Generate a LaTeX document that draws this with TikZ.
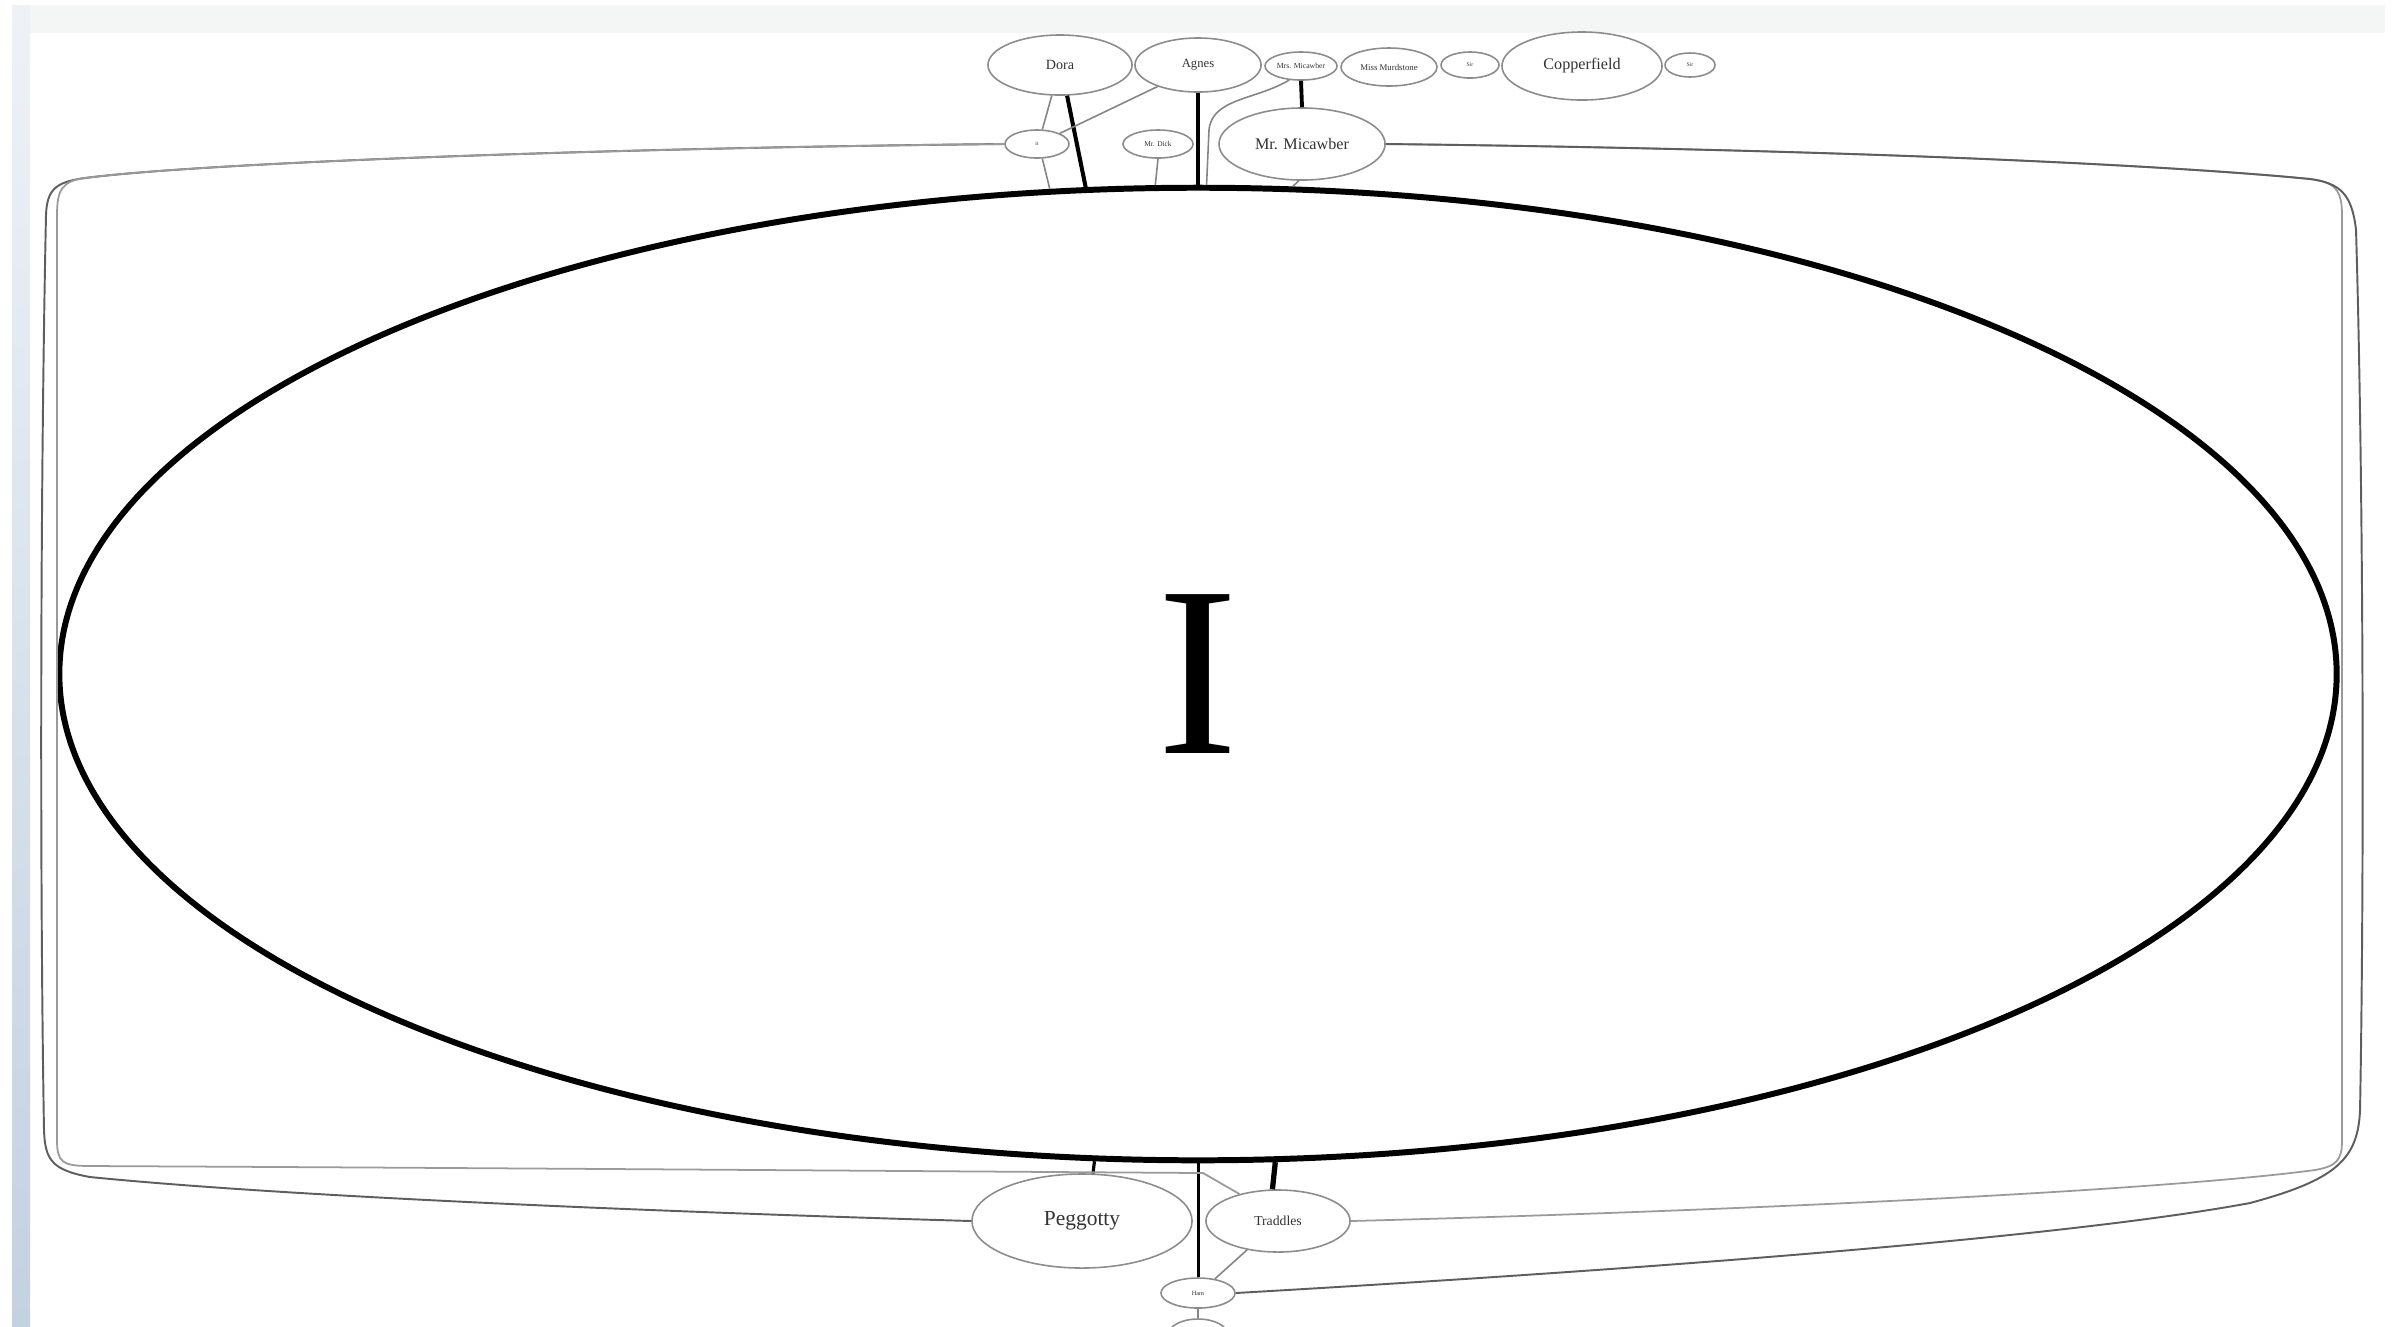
\documentclass[tikz,border=0pt]{standalone}
\usepackage{fontspec}
\setmainfont{Liberation Serif}
\usetikzlibrary{shapes.geometric}
\definecolor{nodegray}{HTML}{8C8C8C}
\definecolor{edgegray}{HTML}{858585}
\definecolor{framedark}{HTML}{5E5E5E}
\definecolor{framelight}{HTML}{9A9A9A}
\definecolor{txtgray}{HTML}{333333}
\definecolor{topstrip}{HTML}{F4F6F6}
\definecolor{bandtop}{HTML}{EEF2F6}
\definecolor{bandbot}{HTML}{C4D1E0}
\newcommand{\fs}[1]{\fontsize{#1}{#1}\selectfont}
\begin{document}
\begin{tikzpicture}[x=0.01cm,y=-0.01cm,
  nd/.style={ellipse,draw=nodegray,line width=0.45pt,inner sep=0pt,text=txtgray,fill=white},
  lite/.style={draw=edgegray,line width=0.45pt},
  heavy/.style={draw=black,line width=#1},
  framed/.style={draw=framedark,line width=0.55pt},
  framel/.style={draw=framelight,line width=0.5pt}]
\useasboundingbox (0,0) rectangle (2400,1326);
% background
\fill[white] (0,0) rectangle (2400,1326);
\fill[topstrip] (12,5) rectangle (2385,33);
\shade[top color=bandtop,bottom color=bandbot] (12,5) rectangle (30,1326);
% main node
\node[ellipse,draw=black,line width=1.7pt,inner sep=0pt,minimum width=22.76cm,minimum height=9.72cm,fill=white] (main) at (1198,674) {\fs{69}I};
% top nodes
\node[nd,minimum width=1.44cm,minimum height=0.60cm] (dora) at (1060,65) {\fs{4}Dora};
\node[nd,minimum width=1.26cm,minimum height=0.54cm] (agnes) at (1198,65) {\fs{3.6}Agnes};
\node[nd,minimum width=0.72cm,minimum height=0.28cm] (mrsmic) at (1301,66) {\fs{2.2}Mrs. Micawber};
\node[nd,minimum width=0.96cm,minimum height=0.38cm] (murd) at (1389,67) {\fs{2.5}Miss Murdstone};
\node[nd,minimum width=0.58cm,minimum height=0.26cm] (sira) at (1470,65) {\fs{1.6}Sir};
\node[nd,minimum width=1.60cm,minimum height=0.68cm] (copp) at (1582,66) {\fs{4.6}Copperfield};
\node[nd,minimum width=0.50cm,minimum height=0.24cm] (sirb) at (1690,65) {\fs{1.6}Sir};
\node[nd,minimum width=0.64cm,minimum height=0.28cm] (q) at (1037,144) {\fs{1.6}it};
\node[nd,minimum width=0.70cm,minimum height=0.28cm] (dick) at (1158,144) {\fs{2.1}Mr. Dick};
\node[nd,minimum width=1.66cm,minimum height=0.72cm] (mic) at (1302,144) {\fs{4.6}Mr. Micawber};
% bottom nodes
\node[nd,minimum width=2.20cm,minimum height=0.94cm] (peg) at (1082,1221) {\fs{6.1}Peggotty};
\node[nd,minimum width=1.44cm,minimum height=0.62cm] (trad) at (1278,1221) {\fs{3.9}Traddles};
\node[nd,minimum width=0.74cm,minimum height=0.30cm] (ham) at (1198,1293) {\fs{1.8}Ham};
\node[nd,minimum width=0.60cm,minimum height=0.32cm] (low) at (1198,1335) {};
% top edges
\draw[lite] (dora.-105) -- (q.70);
\draw[heavy=1.15pt] (dora.-77) -- (main.103.2);
\draw[lite] (agnes.-152) -- (q.25);
\draw[heavy=0.9pt] (agnes.-90) -- (main.north);
\draw[lite] (mrsmic.-130) .. controls (1256,100) and (1212,98) .. (1209,130) -- (main.89.2);
\draw[heavy=1.1pt] (mrsmic.-90) -- (mic.90);
\draw[lite] (q.-70) -- (main.107.4);
\draw[lite] (dick.-90) -- (main.95);
\draw[lite] (mic.-95) -- (main.79.3);
% bottom edges
\draw[heavy=0.9pt] (main.-102.4) -- (peg.77);
\draw[heavy=0.85pt] (main.south) -- (ham.north);
\draw[heavy=1.5pt] (main.-81.8) -- (trad.100);
\draw[lite] (trad.-137) -- (ham.40);
\draw[lite] (ham.-90) -- (low.90);
% frame edges, left
\draw[framed] (q.west) .. controls (600,148) and (200,163) .. (85,178)
  .. controls (55,182) and (47,190) .. (46,215)
  .. controls (40,500) and (40,900) .. (44,1130)
  .. controls (45,1160) and (52,1170) .. (90,1177)
  .. controls (300,1198) and (700,1213) .. (peg.west);
\draw[framel] (q.west) .. controls (600,148) and (200,163) .. (85,178)
  .. controls (62,181) and (57,190) .. (57,215) -- (57,1140)
  .. controls (57,1162) and (62,1166) .. (90,1166)
  .. controls (500,1168) and (900,1171) .. (1203,1173) -- (trad.145);
% frame edges, right
\draw[framel] (mic.east) .. controls (1900,150) and (2200,168) .. (2310,179)
  .. controls (2335,182) and (2342,190) .. (2342,215) -- (2342,1140)
  .. controls (2342,1160) and (2337,1166) .. (2315,1170)
  .. controls (2150,1192) and (1700,1212) .. (trad.east);
\draw[framed] (mic.east) .. controls (1900,150) and (2200,168) .. (2310,179)
  .. controls (2340,183) and (2352,194) .. (2356,230)
  .. controls (2364,500) and (2364,900) .. (2360,1110)
  .. controls (2358,1160) and (2335,1180) .. (2250,1203)
  .. controls (2050,1240) and (1600,1272) .. (ham.east);
\end{tikzpicture}
\end{document}
